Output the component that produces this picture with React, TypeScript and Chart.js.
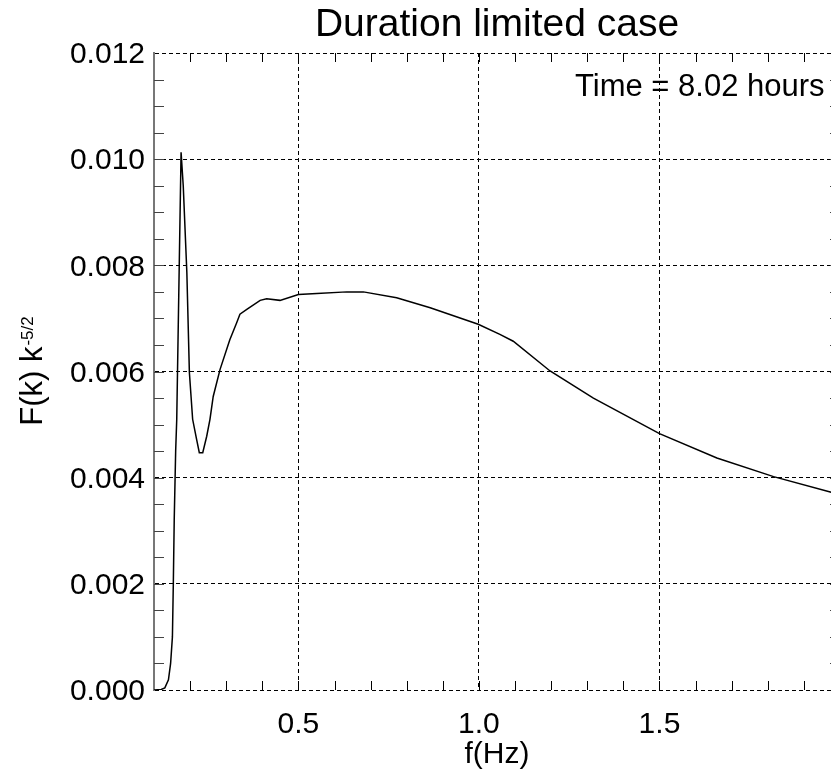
import { useEffect, useRef } from "react";
import { Chart, registerables } from "chart.js";

Chart.register(...registerables);

const freqHz = [
  0.1, 0.12, 0.13, 0.14, 0.146, 0.151, 0.1535, 0.156, 0.16, 0.163, 0.175, 0.181, 0.191, 0.198,
  0.207, 0.218, 0.2255, 0.235, 0.246, 0.255, 0.264, 0.283, 0.31, 0.329, 0.338, 0.357, 0.394,
  0.412, 0.449, 0.5, 0.551, 0.634, 0.68, 0.772, 0.865, 0.998, 1.058, 1.095, 1.197, 1.317, 1.5,
  1.659, 1.816, 1.973, 2.0,
];
const spectrum = [
  0, 0.00001, 0.00004, 0.00019, 0.0005, 0.001, 0.002, 0.0032, 0.0045, 0.0051, 0.01013, 0.0095,
  0.00786, 0.00598, 0.0051, 0.00472, 0.00447, 0.00447, 0.00478, 0.0051, 0.00553, 0.00604, 0.0066,
  0.00692, 0.00708, 0.00717, 0.00734, 0.00737, 0.00734, 0.00745, 0.00747, 0.0075, 0.0075, 0.00739,
  0.0072, 0.00689, 0.0067, 0.00657, 0.00601, 0.0055, 0.00483, 0.00437, 0.00402, 0.00373, 0.00368,
];
const xMajorTicks = [0.5, 1.0, 1.5];
const yMajorTicks = [0, 0.002, 0.004, 0.006, 0.008, 0.01, 0.012];
const xRange = [0.1, 2.0];
const yRange = [0, 0.012];
const xMinorStep = 0.1;
const yMinorStep = 0.0005;

const titleText = "Duration limited case";
const xTitleText = "f(Hz)";
const yTitleMain = "F(k) k";
const yTitleSup = "-5/2";
const annotationText = "Time = 8.02 hours";

const FONT = '"Liberation Sans", Arial, Helvetica, sans-serif';

const decorPlugin = {
  id: "decor",
  afterDraw(chart: any) {
    const { ctx, chartArea: a, scales } = chart;
    const xs = scales.x;
    const ys = scales.y;
    ctx.save();
    // minor ticks on x (bottom & top)
    ctx.strokeStyle = "#000";
    ctx.lineWidth = 1;
    ctx.beginPath();
    const nx = Math.round((xRange[1] - xRange[0]) / xMinorStep);
    for (let i = 1; i < nx; i++) {
      const v = xRange[0] + i * xMinorStep;
      const px = Math.round(xs.getPixelForValue(v)) + 0.5;
      ctx.moveTo(px, a.bottom);
      ctx.lineTo(px, a.bottom - 9);
      ctx.moveTo(px, a.top);
      ctx.lineTo(px, a.top + 9);
    }
    ctx.stroke();
    // minor ticks on y (left & right)
    ctx.strokeStyle = "#444";
    ctx.beginPath();
    const ny = Math.round((yRange[1] - yRange[0]) / yMinorStep);
    for (let i = 1; i < ny; i++) {
      const v = yRange[0] + i * yMinorStep;
      const py = Math.round(ys.getPixelForValue(v)) + 0.5;
      ctx.moveTo(a.left, py);
      ctx.lineTo(a.left + 10, py);
      ctx.moveTo(a.right, py);
      ctx.lineTo(a.right - 10, py);
    }
    ctx.stroke();

    ctx.fillStyle = "#000";
    const cx = (a.left + a.right) / 2;
    const cy = (a.top + a.bottom) / 2;
    // title
    ctx.font = `39px ${FONT}`;
    ctx.textAlign = "center";
    ctx.textBaseline = "alphabetic";
    ctx.fillText(titleText, cx, 36);
    // x title
    ctx.font = `30px ${FONT}`;
    ctx.fillText(xTitleText, cx, 763);
    // annotation
    ctx.font = `31px ${FONT}`;
    ctx.textAlign = "left";
    ctx.fillText(annotationText, a.left + 421, a.top + 43);
    // y title with superscript
    ctx.save();
    ctx.translate(41.5, cy);
    ctx.rotate(-Math.PI / 2);
    ctx.font = `31px ${FONT}`;
    const wMain = ctx.measureText(yTitleMain).width;
    ctx.font = `17px ${FONT}`;
    const wSup = ctx.measureText(yTitleSup).width;
    const start = -(wMain + wSup) / 2;
    ctx.textAlign = "left";
    ctx.font = `31px ${FONT}`;
    ctx.fillText(yTitleMain, start, 0);
    ctx.font = `17px ${FONT}`;
    ctx.fillText(yTitleSup, start + wMain + 1, -9);
    ctx.restore();

    ctx.restore();
  },
};

export default function App() {
  const ref = useRef<HTMLCanvasElement | null>(null);
  useEffect(() => {
    if (!ref.current) return;
    const chart = new Chart(ref.current, {
      type: "line",
      data: {
        datasets: [
          {
            data: freqHz.map((f, i) => ({ x: f, y: spectrum[i] })),
            borderColor: "#000",
            borderWidth: 1.5,
            pointRadius: 0,
            tension: 0,
            fill: false,
          },
        ],
      },
      options: {
        animation: false,
        responsive: false,
        events: [],
        layout: { padding: { top: 53, right: 10, bottom: 0, left: 0 } },
        plugins: { legend: { display: false }, title: { display: false }, tooltip: { enabled: false } },
        scales: {
          x: {
            type: "linear",
            min: xRange[0],
            max: xRange[1],
            afterBuildTicks: (s: any) => {
              s.ticks = xMajorTicks.map((v) => ({ value: v }));
            },
            afterFit: (s: any) => {
              s.height = 81;
            },
            grid: { color: "#000", lineWidth: 1, drawTicks: false },
            border: { display: false, dash: [4, 3] },
            ticks: {
              color: "#000",
              font: { family: FONT, size: 30 },
              padding: 17,
              maxRotation: 0,
              autoSkip: false,
              callback: (v: any) => Number(v).toFixed(1),
            },
          },
          y: {
            type: "linear",
            min: yRange[0],
            max: yRange[1],
            afterBuildTicks: (s: any) => {
              s.ticks = yMajorTicks.map((v) => ({ value: v }));
            },
            afterFit: (s: any) => {
              s.width = 154;
            },
            grid: { color: "#000", lineWidth: 1, drawTicks: false },
            border: { display: true, color: "#777", width: 2, dash: [4, 3] },
            ticks: {
              color: "#000",
              font: { family: FONT, size: 30 },
              padding: 9,
              labelOffset: 2,
              autoSkip: false,
              callback: (v: any) => Number(v).toFixed(3),
            },
          },
        },
      },
      plugins: [decorPlugin],
    });
    return () => chart.destroy();
  }, []);
  return (
    <div
      style={{ position: "absolute", left: 0, top: 0, width: 831, height: 771, overflow: "hidden", background: "#fff" }}
    >
      <canvas ref={ref} width={850} height={771} style={{ display: "block" }} />
    </div>
  );
}
